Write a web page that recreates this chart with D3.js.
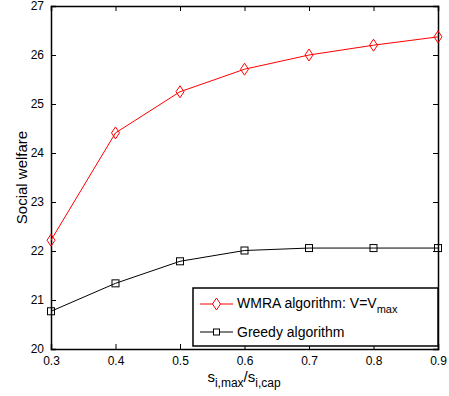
<!DOCTYPE html>
<html>
<head>
<meta charset="utf-8">
<script src="https://cdn.jsdelivr.net/npm/d3@7"></script>
<style>
body { margin: 0; background: #fff; }
text { font-family: "Liberation Sans", Arial, sans-serif; }
</style>
</head>
<body>
<svg id="chart"></svg>
<script>
let ratios = [0.3, 0.4, 0.5, 0.6, 0.7, 0.8, 0.9];
let wmra = [22.22, 24.41, 25.25, 25.71, 26.0, 26.2, 26.37];
let greedy = [20.77, 21.34, 21.79, 22.01, 22.06, 22.06, 22.06];
let x_ticks = [0.3, 0.4, 0.5, 0.6, 0.7, 0.8, 0.9];
let y_ticks = [20, 21, 22, 23, 24, 25, 26, 27];

let width = 449, height = 396;
let padding = { left: 51, right: 11, top: 6, bottom: 47 };

let svg = d3.select('#chart')
    .attr('width', width)
    .attr('height', height);

let x = d3.scaleLinear()
    .domain([0.3, 0.9])
    .range([padding.left, width - padding.right]);
let y = d3.scaleLinear()
    .domain([20, 27])
    .range([height - padding.bottom, padding.top]);

// 坐标轴 (刻度朝内)
let axis_b = d3.axisBottom(x).tickValues(x_ticks).tickSize(-5).tickPadding(7).tickFormat(d3.format('.1f'));
let axis_t = d3.axisTop(x).tickValues(x_ticks).tickSize(-5).tickFormat('');
let axis_l = d3.axisLeft(y).tickValues(y_ticks).tickSize(-5).tickPadding(7).tickFormat(d3.format('d'));
let axis_r = d3.axisRight(y).tickValues(y_ticks).tickSize(-5).tickFormat('');

function style_axis(g) {
    g.select('.domain').attr('stroke', '#000').attr('stroke-width', 1.5);
    g.selectAll('.tick line').attr('stroke', '#000');
    g.selectAll('.tick text').attr('font-size', '12px').attr('fill', '#000')
        .style('font-family', '"Liberation Sans", Arial, sans-serif');
}

svg.append('g').attr('transform', `translate(0, ${height - padding.bottom})`).call(axis_b).call(style_axis);
svg.append('g').attr('transform', `translate(0, ${padding.top})`).call(axis_t).call(style_axis);
svg.append('g').attr('transform', `translate(${padding.left}, 0)`).call(axis_l).call(style_axis);
svg.append('g').attr('transform', `translate(${width - padding.right}, 0)`).call(axis_r).call(style_axis);

// 折线
let line = d3.line().x((d, i) => x(ratios[i])).y(d => y(d));

svg.append('path').datum(wmra)
    .attr('d', line).attr('fill', 'none').attr('stroke', '#ff0000').attr('stroke-width', 1);
svg.append('path').datum(greedy)
    .attr('d', line).attr('fill', 'none').attr('stroke', '#000').attr('stroke-width', 1);

let diamond = 'M0,-6L4,0L0,6L-4,0Z';
svg.append('g').selectAll('path')
    .data(wmra)
    .enter().append('path')
    .attr('d', diamond)
    .attr('transform', (d, i) => `translate(${x(ratios[i])}, ${y(d)})`)
    .attr('fill', 'none').attr('stroke', '#ff0000').attr('stroke-width', 1);

svg.append('g').selectAll('rect')
    .data(greedy)
    .enter().append('rect')
    .attr('x', (d, i) => x(ratios[i]) - 3.5)
    .attr('y', d => y(d) - 3.5)
    .attr('width', 7).attr('height', 7)
    .attr('fill', 'none').attr('stroke', '#000').attr('stroke-width', 1);

// 图例
let legend = svg.append('g').attr('transform', 'translate(193, 288)');
legend.append('rect')
    .attr('width', 245).attr('height', 58)
    .attr('fill', '#fff').attr('stroke', '#000').attr('stroke-width', 1.5);

legend.append('line').attr('x1', 7).attr('x2', 40).attr('y1', 16).attr('y2', 16)
    .attr('stroke', '#ff0000');
legend.append('path').attr('d', diamond).attr('transform', 'translate(23.5, 16)')
    .attr('fill', '#fff').attr('stroke', '#ff0000');
let t1 = legend.append('text').attr('x', 44).attr('y', 20).attr('font-size', '14px');
t1.append('tspan').text('WMRA algorithm: V=V');
t1.append('tspan').attr('font-size', '11px').attr('dy', 5).text('max');

legend.append('line').attr('x1', 7).attr('x2', 40).attr('y1', 44).attr('y2', 44)
    .attr('stroke', '#000');
legend.append('rect').attr('x', 20.5).attr('y', 41).attr('width', 6).attr('height', 6)
    .attr('fill', '#fff').attr('stroke', '#000');
legend.append('text').attr('x', 44).attr('y', 49).attr('font-size', '14px').text('Greedy algorithm');

// 坐标轴标题
let xl = svg.append('text')
    .attr('x', 244).attr('y', 382)
    .attr('text-anchor', 'middle')
    .attr('font-size', '15px');
xl.append('tspan').text('s');
xl.append('tspan').attr('font-size', '12px').attr('dy', 5).text('i,max');
xl.append('tspan').attr('font-size', '15px').attr('dy', -5).text('/s');
xl.append('tspan').attr('font-size', '12px').attr('dy', 5).text('i,cap');

svg.append('text')
    .attr('transform', `translate(27, ${(padding.top + height - padding.bottom) / 2}) rotate(-90)`)
    .attr('text-anchor', 'middle')
    .attr('font-size', '15px')
    .text('Social welfare');
</script>
</body>
</html>
